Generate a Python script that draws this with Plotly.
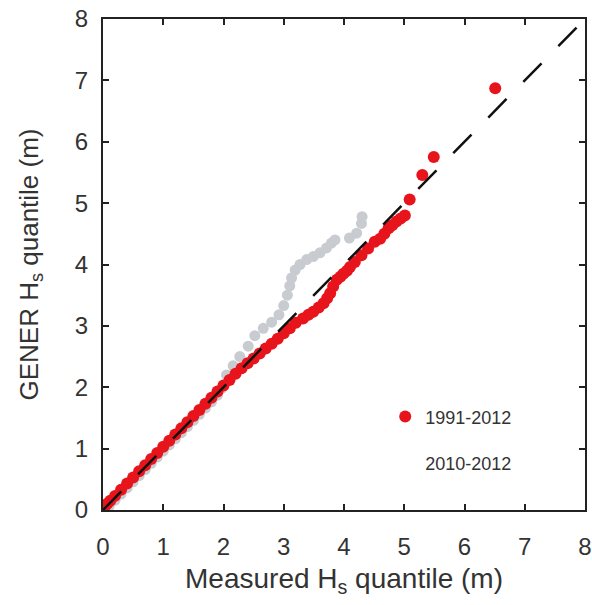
import plotly.graph_objects as go

# Red series: 1991-2012 (measured vs GENER Hs quantiles)
red_x = [0.0, 0.03, 0.07, 0.12, 0.2, 0.3, 0.4, 0.5, 0.6, 0.7, 0.8, 0.9, 1.0,
         1.1, 1.2, 1.3, 1.4, 1.5, 1.6, 1.7, 1.8, 1.9, 2.0, 2.1, 2.2, 2.3,
         2.4, 2.5, 2.6, 2.7, 2.8, 2.9, 3.0, 3.1, 3.2, 3.32, 3.41, 3.49, 3.58,
         3.66, 3.72, 3.77, 3.82, 3.88, 3.94, 3.99, 4.05, 4.10, 4.18, 4.29,
         4.40, 4.51, 4.60, 4.67, 4.74, 4.80, 4.87, 4.94, 5.01, 5.09, 5.30,
         5.49, 6.51]
red_y = [0.0, 0.06, 0.1, 0.15, 0.23, 0.33, 0.43, 0.53, 0.63, 0.73, 0.83, 0.93,
         1.03, 1.13, 1.23, 1.33, 1.43, 1.53, 1.63, 1.73, 1.83, 1.93, 2.03,
         2.12, 2.22, 2.31, 2.39, 2.47, 2.55, 2.63, 2.71, 2.79, 2.88, 2.96,
         3.05, 3.12, 3.18, 3.23, 3.30, 3.37, 3.45, 3.53, 3.64, 3.75, 3.80,
         3.85, 3.90, 3.96, 4.04, 4.15, 4.26, 4.37, 4.42, 4.50, 4.59, 4.64,
         4.70, 4.75, 4.80, 5.06, 5.46, 5.75, 6.87]

# Gray series: 2010-2012
gray_x = [0.0, 0.05, 0.1, 0.2, 0.3, 0.4, 0.5, 0.6, 0.7, 0.8, 0.9, 1.0, 1.1,
          1.2, 1.3, 1.4, 1.5, 1.6, 1.7, 1.8, 1.9, 1.97, 2.05, 2.16, 2.27,
          2.41, 2.52, 2.66, 2.80, 2.92, 3.0, 3.06, 3.1, 3.13, 3.19, 3.27,
          3.38, 3.49, 3.60, 3.71, 3.79, 3.85, 4.09, 4.21, 4.29, 4.30]
gray_y = [0.0, 0.02, 0.06, 0.16, 0.26, 0.36, 0.46, 0.56, 0.66, 0.76, 0.86,
          0.96, 1.06, 1.16, 1.26, 1.36, 1.46, 1.56, 1.66, 1.76, 1.87, 1.98,
          2.2, 2.35, 2.5, 2.67, 2.84, 2.96, 3.06, 3.18, 3.33, 3.5, 3.65, 3.78,
          3.91, 4.0, 4.08, 4.13, 4.19, 4.27, 4.35, 4.40, 4.43, 4.51, 4.67, 4.78]

# 1:1 reference line
ref_x = [0, 8]
ref_y = [0, 8]

tick_vals = [0, 1, 2, 3, 4, 5, 6, 7, 8]

RED = "#e8141c"
GRAY = "#c8cbd0"
FONT = "Liberation Sans, Arial, sans-serif"

fig = go.Figure()
fig.add_trace(go.Scatter(x=gray_x, y=gray_y, mode="markers",
                         marker=dict(color=GRAY, size=11, line=dict(width=0)),
                         showlegend=False, hoverinfo="skip"))
fig.add_trace(go.Scatter(x=red_x, y=red_y, mode="markers", name="1991-2012",
                         legendgroup="a",
                         marker=dict(color=RED, size=12, line=dict(width=0))))
fig.add_trace(go.Scatter(x=[None], y=[None], mode="markers", name="2010-2012",
                         legendgroup="b",
                         marker=dict(color="rgba(0,0,0,0)", size=10)))
fig.add_trace(go.Scatter(x=ref_x, y=ref_y, mode="lines", showlegend=False,
                         line=dict(color="#111111", width=2.5, dash="26px,24px"),
                         hoverinfo="skip"))

axis_common = dict(range=[0, 8], tickvals=tick_vals, ticks="inside", ticklen=6,
                   tickwidth=1.5, tickcolor="#222", showline=True, linewidth=2,
                   linecolor="#222", mirror="ticks", showgrid=False,
                   zeroline=False, automargin=False,
                   tickfont=dict(size=24, color="#333", family=FONT))

fig.update_xaxes(**axis_common,
                 title=dict(text="Measured H<sub>s</sub> quantile (m)",
                            font=dict(size=28, color="#333", family=FONT),
                            standoff=10),
                 ticklabelstandoff=14)
fig.update_yaxes(**axis_common,
                 title=dict(text="GENER H<sub>s</sub> quantile (m)",
                            font=dict(size=26, color="#333", family=FONT),
                            standoff=29),
                 ticklabelstandoff=8)

fig.update_layout(
    width=592, height=605,
    margin=dict(l=103, r=7, t=19, b=95, autoexpand=False),
    plot_bgcolor="white", paper_bgcolor="white",
    font=dict(family=FONT, color="#333"),
    legend=dict(x=0.5855, y=0.143, xanchor="left", yanchor="middle",
                font=dict(size=18, color="#333", family=FONT),
                bgcolor="rgba(0,0,0,0)", tracegroupgap=20,
                traceorder="grouped", itemsizing="constant"),
)

fig.write_html("out.html", config={"displayModeBar": False},
               post_script="document.body.style.margin='0px';")
